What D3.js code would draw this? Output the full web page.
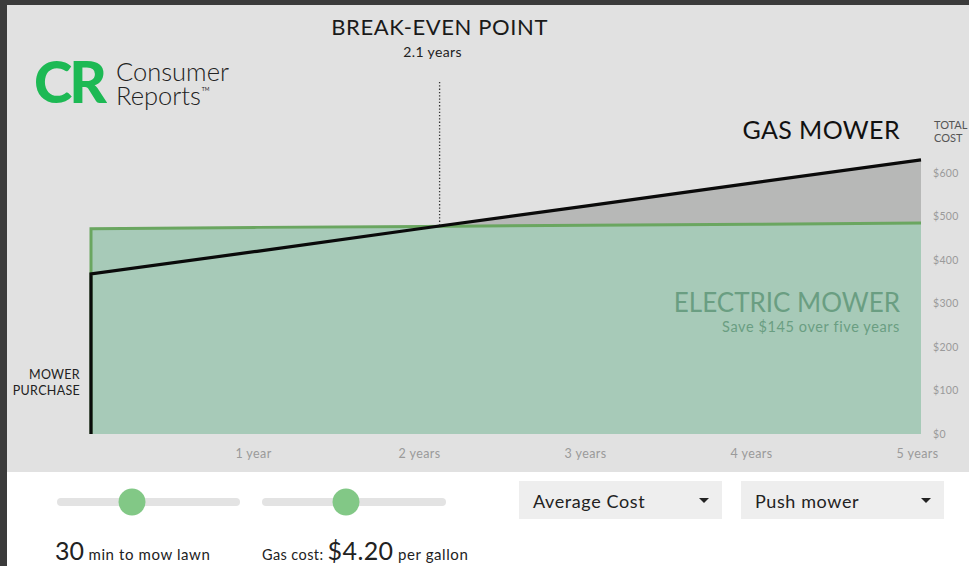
<!DOCTYPE html>
<html>
<head>
<meta charset="utf-8">
<script src="https://cdn.jsdelivr.net/npm/d3@7"></script>
<style>
  body { margin: 0; background: #3b3b3b; }
  svg { display: block; font-family: Lato, "Noto Sans", sans-serif; }
</style>
</head>
<body>
<div id="chart"></div>
<script>
// years since purchase
const years = [0, 1, 2, 3, 4, 5];
// cumulative total cost, dollars
const electricCost = [472, 475, 477, 480, 482, 485];
const gasCost = [368, 420, 473, 525, 578, 630];
const yTicks = [0, 100, 200, 300, 400, 500, 600];
const xTickLabels = ["1 year", "2 years", "3 years", "4 years", "5 years"];
const breakEven = 2.1;

const W = 969, H = 566;

const svg = d3.select("#chart").append("svg")
  .attr("width", W)
  .attr("height", H);

// frame + panels
svg.append("rect").attr("width", W).attr("height", H).attr("fill", "#3b3b3b");
svg.append("rect").attr("x", 7).attr("y", 5).attr("width", W - 7).attr("height", 467).attr("fill", "#e1e1e1");
svg.append("rect").attr("x", 7).attr("y", 472).attr("width", W - 7).attr("height", H - 472).attr("fill", "#ffffff");

const x = d3.scaleLinear().domain([0, 5]).range([91, 921]);
const y = d3.scaleLinear().domain([0, 600]).range([434, 173]);

const gas = years.map((t, i) => ({ t: t, v: gasCost[i] }));
const elec = years.map((t, i) => ({ t: t, v: electricCost[i] }));

const area = d3.area()
  .x(d => x(d.t))
  .y0(y(0))
  .y1(d => y(d.v));

const line = d3.line()
  .x(d => x(d.t))
  .y(d => y(d.v));

// gray gap above the electric area
svg.append("path").attr("d", area(gas)).attr("fill", "#b7b8b7");
svg.append("path").attr("d", area(elec)).attr("fill", "#a7cab8");

svg.append("path")
  .attr("d", line([{ t: 0, v: 0 }].concat(elec)))
  .attr("fill", "none")
  .attr("stroke", "#6aa660")
  .attr("stroke-width", 3);

svg.append("path")
  .attr("d", line([{ t: 0, v: 0 }].concat(gas)))
  .attr("fill", "none")
  .attr("stroke", "#0a0a0a")
  .attr("stroke-width", 3.2);

// break-even marker
const beY = y(gasCost[0] + (gasCost[5] - gasCost[0]) / 5 * breakEven);
svg.append("line")
  .attr("x1", x(breakEven)).attr("x2", x(breakEven))
  .attr("y1", 82).attr("y2", beY)
  .attr("stroke", "#333")
  .attr("stroke-width", 1.3)
  .attr("stroke-dasharray", "1.3,2");

svg.append("text")
  .attr("x", x(breakEven)).attr("y", 35)
  .attr("text-anchor", "middle")
  .attr("font-size", 22)
  .attr("letter-spacing", 0.6)
  .attr("fill", "#1a1a1a")
  .text("BREAK-EVEN POINT");

svg.append("text")
  .attr("x", x(breakEven) - 7).attr("y", 57)
  .attr("text-anchor", "middle")
  .attr("font-size", 14)
  .attr("letter-spacing", 0.4)
  .attr("fill", "#222")
  .text("2.1 years");

// x axis labels
const xAxis = d3.axisBottom(x)
  .tickValues([1, 2, 3, 4, 5])
  .tickFormat((d, i) => xTickLabels[i])
  .tickSize(0)
  .tickPadding(0);

svg.append("g")
  .attr("transform", "translate(-4,449)")
  .call(xAxis)
  .call(g => g.select(".domain").remove())
  .call(g => g.selectAll("text")
    .attr("font-family", "Lato, sans-serif")
    .attr("font-size", 12.5)
    .attr("letter-spacing", 0.4)
    .attr("fill", "#9a9a9a"));

// y axis labels
const yAxis = d3.axisRight(y)
  .tickValues(yTicks)
  .tickFormat(d => "$" + d)
  .tickSize(0)
  .tickPadding(0);

svg.append("g")
  .attr("transform", "translate(933,0)")
  .call(yAxis)
  .call(g => g.select(".domain").remove())
  .call(g => g.selectAll("text")
    .attr("font-family", "Lato, sans-serif")
    .attr("font-size", 10.5)
    .attr("letter-spacing", 0.3)
    .attr("fill", "#9a9a9a"));

const totalCost = svg.append("text")
  .attr("x", 934).attr("y", 129)
  .attr("font-size", 11).attr("fill", "#555");
totalCost.append("tspan").attr("x", 934).text("TOTAL");
totalCost.append("tspan").attr("x", 934).attr("dy", 13).text("COST");

// series labels
svg.append("text")
  .attr("x", 900).attr("y", 139)
  .attr("text-anchor", "end")
  .attr("font-size", 25)
  .attr("letter-spacing", 0.4)
  .attr("fill", "#111")
  .text("GAS MOWER");

svg.append("text")
  .attr("x", 900).attr("y", 312)
  .attr("text-anchor", "end")
  .attr("font-size", 26)
  .attr("fill", "#6a9e82")
  .text("ELECTRIC MOWER");

svg.append("text")
  .attr("x", 900).attr("y", 332)
  .attr("text-anchor", "end")
  .attr("font-size", 14.5)
  .attr("letter-spacing", 0.6)
  .attr("fill", "#6a9e82")
  .text("Save $145 over five years");

const purchase = svg.append("text")
  .attr("x", 80).attr("y", 379)
  .attr("text-anchor", "end")
  .attr("font-size", 12.5)
  .attr("letter-spacing", 0.3)
  .attr("fill", "#222");
purchase.append("tspan").attr("x", 80).text("MOWER");
purchase.append("tspan").attr("x", 80).attr("dy", 16).text("PURCHASE");

// logo
svg.append("text")
  .attr("x", 34).attr("y", 103)
  .attr("font-size", 58)
  .attr("font-weight", 900)
  .attr("letter-spacing", -3)
  .attr("fill", "#1db954")
  .text("CR");
const brand = svg.append("text")
  .attr("x", 116).attr("y", 81)
  .attr("font-size", 25.5)
  .attr("font-weight", 300)
  .attr("fill", "#222");
brand.append("tspan").attr("x", 116).text("Consumer");
brand.append("tspan").attr("x", 116).attr("dy", 23.5).text("Reports");
brand.append("tspan").attr("dx", 1).attr("dy", -14).attr("font-size", 5).attr("font-weight", 400).text("TM");

// controls
const sliders = [{ x0: 57, x1: 240, k: 132 }, { x0: 262, x1: 446, k: 346 }];
sliders.forEach(s => {
  svg.append("line")
    .attr("x1", s.x0 + 4).attr("x2", s.x1 - 4)
    .attr("y1", 502).attr("y2", 502)
    .attr("stroke", "#e3e3e3")
    .attr("stroke-width", 8)
    .attr("stroke-linecap", "round");
  svg.append("circle")
    .attr("cx", s.k).attr("cy", 502).attr("r", 13.5)
    .attr("fill", "#82c886");
});

const t1 = svg.append("text").attr("x", 55).attr("y", 560).attr("fill", "#222");
t1.append("tspan").attr("font-size", 25).text("30");
t1.append("tspan").attr("font-size", 15).attr("letter-spacing", 0.6).text(" min to mow lawn");

const t2 = svg.append("text").attr("x", 262).attr("y", 560).attr("fill", "#222");
t2.append("tspan").attr("font-size", 14.5).attr("letter-spacing", 0.4).text("Gas cost: ");
t2.append("tspan").attr("font-size", 25).attr("letter-spacing", 0.4).text("$4.20");
t2.append("tspan").attr("font-size", 15).attr("letter-spacing", 0.6).text(" per gallon");

const drops = [{ x: 519, w: 203, label: "Average Cost" }, { x: 741, w: 203, label: "Push mower" }];
drops.forEach(d => {
  svg.append("rect")
    .attr("x", d.x).attr("y", 481)
    .attr("width", d.w).attr("height", 38)
    .attr("fill", "#eeeeee");
  svg.append("text")
    .attr("x", d.x + 14).attr("y", 508)
    .attr("font-size", 18)
    .attr("letter-spacing", 0.6)
    .attr("fill", "#222")
    .text(d.label);
  const cx = d.x + d.w - 18;
  svg.append("path")
    .attr("d", `M${cx - 5},498 L${cx + 5},498 L${cx},503 Z`)
    .attr("fill", "#222");
});
</script>
</body>
</html>
